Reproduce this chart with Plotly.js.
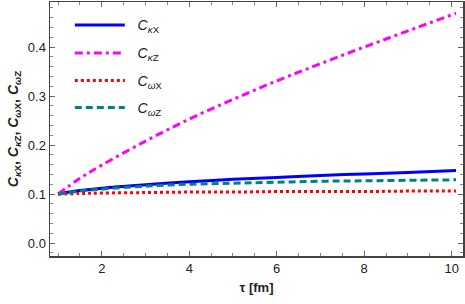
<!DOCTYPE html>
<html><head><meta charset="utf-8">
<script src="https://cdn.plot.ly/plotly-3.0.1.min.js"></script>
<style>html,body{margin:0;padding:0;background:#fff}#chart{width:465px;height:304px}</style>
</head><body><div id="chart"></div>
<script>
const tau = [1, 1.5, 2, 3, 4, 5, 6, 7, 8, 9, 10.1];
const cKX = [0.100, 0.107, 0.112, 0.119, 0.125, 0.130, 0.134, 0.138, 0.141, 0.144, 0.148];
const cKZ = [0.100, 0.132, 0.159, 0.208, 0.253, 0.293, 0.331, 0.366, 0.400, 0.433, 0.469];
const cWX = [0.100, 0.101, 0.102, 0.103, 0.104, 0.104, 0.105, 0.105, 0.105, 0.106, 0.106];
const cWZ = [0.100, 0.106, 0.110, 0.116, 0.120, 0.122, 0.124, 0.126, 0.127, 0.128, 0.129];
const names = ['<i>C</i><sub><i>κ</i>X</sub>', '<i>C</i><sub><i>κ</i>Z</sub>', '<i>C</i><sub><i>ω</i>X</sub>', '<i>C</i><sub><i>ω</i>Z</sub>'];
const series = [cKX, cKZ, cWX, cWZ];
const colors = ['#0000ff', '#ff00ff', '#ff0000', '#008080'];
const dashes = ['solid', '8px,4px,3px,4px', '3px,3px', '7px,4px'];
const legendIds = ['legend', 'legend2', 'legend3', 'legend4'];
const legendY = [0.908, 0.798, 0.689, 0.583];

const traces = series.map((y, i) => ({
  x: tau, y: y, name: '&nbsp;&nbsp;' + names[i], type: 'scatter', mode: 'lines',
  legend: legendIds[i],
  line: {color: colors[i], width: 3, dash: dashes[i], shape: 'spline'}
}));

const font = {family: 'Liberation Sans, Arial', color: '#222'};
const axisCommon = {
  showline: true, linecolor: '#444', linewidth: 1.5, mirror: 'allticks',
  ticks: 'inside', ticklen: 5, tickcolor: '#666', showgrid: false, zeroline: false,
  tickfont: Object.assign({size: 13}, font)
};

const layout = {
  width: 465, height: 304,
  margin: {l: 50, r: 2, t: 2, b: 48},
  paper_bgcolor: '#fff', plot_bgcolor: '#fff',
  showlegend: true,
  xaxis: Object.assign({}, axisCommon, {
    range: [0.816, 10.26], tickvals: [2, 4, 6, 8, 10],
    minor: {dtick: 0.5, tick0: 0, ticks: 'inside', ticklen: 3, tickcolor: '#888'},
    title: {text: '<b>τ [fm]</b>', font: Object.assign({size: 13}, font), standoff: 8}
  }),
  yaxis: Object.assign({}, axisCommon, {
    range: [-0.0265, 0.492], tickvals: [0, 0.1, 0.2, 0.3, 0.4], tickformat: '.1f',
    minor: {dtick: 0.02, tick0: 0, ticks: 'inside', ticklen: 3, tickcolor: '#888'},
    title: {text: '<b><i>C</i><sub><i>κ</i>X</sub>, <i>C</i><sub><i>κ</i>Z</sub>, <i>C</i><sub><i>ω</i>X</sub>, <i>C</i><sub><i>ω</i>Z</sub></b>',
      font: Object.assign({size: 14}, font), standoff: 6}
  })
};
legendIds.forEach((id, i) => {
  layout[id] = {x: 0.048, y: legendY[i], xanchor: 'left', yanchor: 'middle',
    bgcolor: 'rgba(0,0,0,0)', itemwidth: 50,
    font: Object.assign({size: 14}, font)};
});

Plotly.newPlot('chart', traces, layout, {displayModeBar: false, staticPlot: true});
</script>
</body></html>
